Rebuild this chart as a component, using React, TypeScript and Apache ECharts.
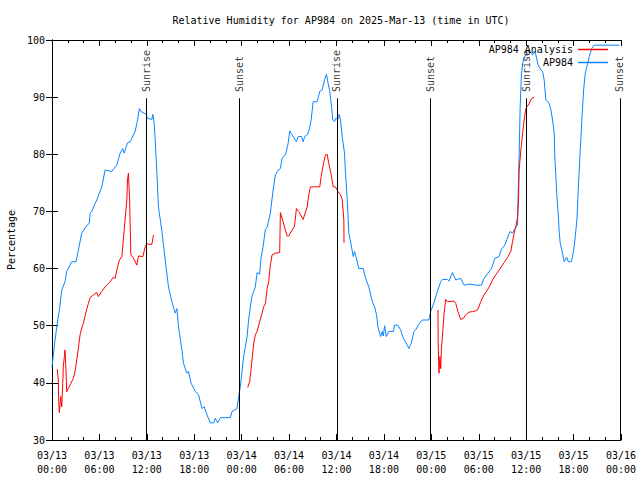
import React, { useEffect, useRef } from "react";
import * as echarts from "echarts";

// Observations (AP984): hours since 2025-03-13 00:00 UTC, relative humidity (%)
const obsTime = [0, 0.38, 0.6, 0.93, 1.23, 1.65, 1.86, 2.5, 3.04, 3.33, 3.76, 4.18, 4.73, 4.82, 5.03, 5.45, 5.67, 6.3, 6.72, 7.57, 8.2, 8.62, 8.96, 9.13, 9.55, 9.89, 10.52, 10.74, 11.07, 11.24, 11.92, 12.08, 12.64, 12.76, 12.93, 13.06, 13.27, 13.47, 13.91, 14.32, 14.74, 15.17, 15.59, 15.81, 16.01, 16.44, 16.64, 17.07, 17.28, 17.58, 18.13, 18.55, 18.98, 19.27, 19.61, 20.03, 20.45, 20.66, 20.95, 21.3, 22.56, 22.78, 23.41, 23.62, 23.83, 24.05, 24.25, 24.47, 24.68, 24.88, 25.1, 25.31, 25.52, 25.73, 25.95, 26.28, 26.45, 26.71, 27.0, 27.22, 27.63, 27.98, 28.27, 28.56, 28.9, 29.12, 29.54, 29.88, 30.08, 30.38, 30.93, 31.15, 31.56, 31.78, 31.98, 32.36, 32.58, 32.79, 33.05, 33.55, 33.88, 34.19, 34.48, 34.73, 34.9, 35.15, 35.37, 35.53, 35.75, 35.91, 36.17, 36.34, 36.51, 36.72, 37.01, 37.14, 37.36, 37.56, 37.86, 38.12, 38.28, 38.45, 38.83, 39.39, 39.68, 40.09, 40.53, 40.82, 41.07, 41.24, 41.58, 41.79, 41.92, 42.09, 42.3, 42.63, 43.19, 43.35, 43.77, 44.11, 44.46, 44.79, 45.17, 45.47, 45.8, 46.01, 46.43, 46.86, 47.7, 47.92, 48.33, 48.76, 49.18, 49.4, 50.03, 50.24, 50.67, 51.09, 51.72, 52.14, 52.77, 53.62, 54.34, 54.67, 55.18, 55.61, 56.03, 56.57, 56.88, 57.3, 57.55, 57.97, 58.27, 58.56, 58.91, 58.98, 59.11, 59.24, 59.41, 59.67, 59.96, 60.38, 60.81, 61.01, 61.23, 61.52, 61.86, 62.08, 62.28, 62.49, 62.91, 63.13, 63.34, 63.55, 63.63, 63.76, 63.89, 64.05, 64.18, 64.31, 64.61, 64.81, 65.12, 65.32, 65.75, 66.0, 66.17, 66.42, 66.59, 66.8, 67.02, 67.27, 67.48, 67.78, 67.98, 68.29, 68.62, 71.78];
const obsRH = [42.8, 47.5, 49.8, 52.7, 56.2, 57.7, 59.5, 61.2, 61.2, 63.2, 66.2, 67.1, 68.0, 69.7, 70.0, 71.4, 72.0, 74.3, 77.25, 77.0, 78.1, 80.2, 81.0, 80.2, 82.0, 82.2, 84.0, 85.4, 88.0, 87.5, 87.0, 86.3, 86.1, 87.0, 85.4, 82.5, 76.7, 70.8, 66.5, 61.5, 56.8, 54.2, 52.2, 53.0, 49.8, 45.75, 43.4, 41.7, 42.0, 40.0, 38.5, 37.9, 35.5, 35.8, 34.4, 33.0, 33.0, 33.8, 33.0, 33.9, 33.9, 35.0, 35.5, 37.6, 39.3, 42.0, 44.6, 46.3, 48.1, 51.0, 53.3, 55.2, 56.0, 56.8, 59.3, 59.0, 61.8, 63.8, 66.9, 67.2, 69.7, 73.75, 76.4, 77.1, 77.5, 79.3, 79.9, 81.9, 84.1, 83.4, 82.2, 83.1, 83.1, 82.2, 83.1, 83.5, 84.5, 86.0, 89.2, 89.2, 91.0, 91.25, 93.0, 94.0, 92.7, 91.0, 88.3, 86.0, 85.7, 86.3, 86.1, 87.0, 86.0, 83.1, 80.2, 76.7, 72.0, 66.2, 64.1, 62.1, 63.0, 62.1, 60.0, 60.0, 58.3, 56.8, 54.2, 53.3, 51.9, 49.8, 48.1, 49.0, 48.2, 50.0, 48.1, 49.0, 49.0, 50.1, 50.1, 49.25, 47.8, 47.0, 46.0, 47.0, 49.0, 49.25, 50.3, 51.0, 51.0, 52.5, 54.0, 56.0, 57.7, 58.1, 58.1, 57.8, 59.3, 58.0, 58.3, 57.1, 57.3, 57.1, 57.1, 58.3, 59.2, 60.0, 61.8, 62.1, 63.4, 64.1, 65.1, 66.5, 66.2, 67.0, 67.6, 72.6, 79.9, 88.3, 94.2, 96.8, 97.4, 98.0, 97.4, 98.0, 97.4, 95.6, 94.75, 94.5, 93.0, 89.5, 88.9, 87.75, 86.0, 83.7, 79.6, 76.1, 72.6, 69.7, 66.5, 64.4, 62.7, 61.2, 62.0, 61.2, 61.2, 63.2, 65.0, 68.5, 73.75, 79.6, 85.4, 91.25, 94.2, 95.9, 97.1, 98.5, 99.1, 99.1];

// Analysis (AP984 Analysis): null marks the gaps between the three runs
const anaTime = [0.67, 0.8, 0.85, 0.93, 1.1, 1.23, 1.36, 1.43, 1.56, 1.65, 1.77, 1.86, 2.28, 2.7, 2.92, 3.13, 3.33, 3.55, 3.76, 3.97, 4.31, 4.6, 4.82, 5.24, 5.67, 5.87, 6.3, 6.72, 7.35, 7.77, 7.99, 8.2, 8.53, 8.84, 9.04, 9.47, 9.55, 9.67, 9.82, 9.98, 10.31, 10.74, 10.94, 11.5, 11.79, 12.0, 12.21, 12.64, 12.84,
  18,
  24.76, 25.01, 25.31, 25.52, 25.73, 25.95, 26.28, 26.58, 26.78, 27.0, 27.22, 27.42, 27.63, 27.85, 28.27, 28.81, 28.9, 29.24, 29.75, 29.95, 30.38, 30.68, 30.93, 31.22, 31.78, 32.29, 32.49, 32.7, 33.88, 34.06, 34.31, 34.61, 34.82, 35.02, 35.33, 35.58, 35.87, 36.17, 36.51, 36.72, 36.93, 36.95,
  42,
  48.84, 48.86, 48.97, 49.09, 49.18, 49.28, 49.4, 49.6, 49.82, 50.03, 50.87, 51.09, 51.38, 51.72, 52.06, 52.35, 52.77, 53.2, 53.62, 53.91, 54.25, 54.67, 55.1, 55.43, 55.74, 56.15, 56.57, 57.0, 57.42, 57.71, 58.06, 58.27, 58.48, 58.69, 58.91, 59.03, 59.11, 59.33, 59.55, 59.75, 59.96, 60.38, 60.71, 61.01];
const anaRH = [42.4, 40.5, 36.7, 34.8, 37.6, 35.8, 39.9, 42.8, 44.6, 45.75, 42.25, 38.45, 39.6, 40.8, 42.0, 44.0, 46.0, 48.4, 49.6, 50.4, 52.45, 53.9, 54.9, 55.4, 55.8, 55.1, 56.0, 56.8, 57.7, 58.5, 58.3, 59.75, 61.5, 62.1, 65.3, 72.0, 75.5, 76.7, 72.0, 62.4, 61.8, 60.6, 62.2, 62.1, 63.8, 64.4, 64.25, 64.25, 65.9,
  null,
  39.2, 40.2, 44.0, 46.9, 48.4, 49.0, 50.7, 52.2, 53.3, 53.9, 56.5, 57.7, 60.6, 62.4, 62.7, 62.8, 69.8, 68.2, 65.7, 65.7, 66.75, 67.4, 70.5, 70.0, 68.6, 70.8, 72.9, 74.3, 74.3, 76.1, 78.1, 79.9, 80.0, 78.4, 76.4, 74.3, 74.3, 73.5, 72.9, 72.1, 68.5, 64.5,
  null,
  52.75, 47.2, 41.7, 44.6, 42.5, 46.0, 48.1, 51.9, 54.6, 54.2, 54.3, 53.9, 52.45, 51.1, 51.3, 51.9, 52.4, 52.45, 52.6, 52.9, 54.2, 55.4, 56.25, 57.1, 58.0, 58.9, 59.75, 60.6, 61.5, 62.1, 63.0, 64.7, 66.2, 67.3, 69.1, 72.0, 77.25, 80.75, 83.7, 86.0, 88.0, 88.9, 89.8, 90.0];

// Sunrise / sunset markers
const sunTime = [11.95, 23.74, 36.04, 47.87, 60.0, 71.87];
const sunLabel = ["Sunrise", "Sunset", "Sunrise", "Sunset", "Sunrise", "Sunset"];

// Axis labelling
const tickDates = ["03/13", "03/14", "03/15", "03/16"];
const seriesNames = ["AP984 Analysis", "AP984"];
const titleText = "Relative Humidity for AP984 on 2025-Mar-13 (time in UTC)";

const FONT = "DejaVu Sans Mono";
const RED = "#ff0000";
const BLUE = "#0a84ff";

export default function App() {
  const ref = useRef<HTMLDivElement>(null);
  useEffect(() => {
    if (!ref.current) return;
    const chart = echarts.init(ref.current, null, { renderer: "svg" });
    const obsData = obsTime.map((t, i) => [t, obsRH[i]]);
    const anaData = anaTime.map((t, i) => [t, anaRH[i] === null ? "-" : anaRH[i]]);
    const sunData = sunTime.map((t, i) => ({ value: [t, 90.9], name: sunLabel[i] }));
    const sunLines = sunTime.map((t) => [{ coord: [t, 89.8] }, { coord: [t, 30] }]);
    const fmt = (v: number) => {
      const d = Math.floor(v / 24);
      const h = Math.round(v - d * 24);
      return tickDates[d] + "\n" + String(h).padStart(2, "0") + ":00";
    };
    const txt = { fontFamily: FONT, fontSize: 10, color: "#000" };
    const xCommon = {
      type: "value",
      min: 0,
      max: 72,
      interval: 6,
      splitLine: { show: false },
      axisLine: { show: true, lineStyle: { color: "#000", width: 1 } },
      axisTick: { show: true, inside: true, length: 6, lineStyle: { color: "#000" } },
      minorTick: { show: true, splitNumber: 3, length: 3, lineStyle: { color: "#000" } },
    };
    const yCommon = {
      type: "value",
      min: 30,
      max: 100,
      interval: 10,
      splitLine: { show: false },
      axisLine: { show: true, lineStyle: { color: "#000", width: 1 } },
      axisTick: { show: true, inside: true, length: 6, lineStyle: { color: "#000" } },
    };
    chart.setOption({
      animation: false,
      backgroundColor: "#fff",
      title: {
        text: titleText,
        left: 336,
        top: 10,
        textAlign: "center",
        textStyle: { ...txt, fontWeight: "normal" },
      },
      legend: {
        data: seriesNames,
        orient: "vertical",
        right: 27,
        top: 39,
        align: "right",
        icon: "rect",
        itemWidth: 30,
        itemHeight: 1.5,
        itemGap: 2,
        textStyle: { ...txt, lineHeight: 11 },
        selectedMode: false,
      },
      grid: { left: 52, right: 19, top: 40, bottom: 40, containLabel: false, outerBoundsMode: "none" },
      xAxis: [
        {
          ...xCommon,
          position: "bottom",
          axisLabel: { ...txt, formatter: fmt, margin: 8, lineHeight: 14 },
        },
        { ...xCommon, position: "top", axisLabel: { show: false } },
      ],
      yAxis: [
        {
          ...yCommon,
          position: "left",
          name: "Percentage",
          nameLocation: "middle",
          nameGap: 36,
          nameTextStyle: txt,
          axisLabel: { ...txt, margin: 7 },
        },
        { ...yCommon, position: "right", axisLabel: { show: false } },
      ],
      series: [
        {
          name: seriesNames[0],
          type: "line",
          data: anaData,
          showSymbol: false,
          symbol: "none",
          connectNulls: false,
          color: RED,
          lineStyle: { color: RED, width: 1 },
          z: 3,
        },
        {
          name: seriesNames[1],
          type: "line",
          data: obsData,
          showSymbol: false,
          symbol: "none",
          color: BLUE,
          lineStyle: { color: BLUE, width: 1 },
          z: 2,
        },
        {
          name: "sun",
          type: "scatter",
          data: sunData,
          symbolSize: 0,
          silent: true,
          label: {
            show: true,
            formatter: (p: any) => p.name,
            position: [0, 0],
            align: "left",
            verticalAlign: "middle",
            rotate: 90,
            ...txt,
          },
          markLine: {
            silent: true,
            symbol: ["none", "none"],
            label: { show: false },
            lineStyle: { color: "#000", width: 1, type: "solid" },
            data: sunLines,
          },
          z: 4,
        },
      ],
    });
    return () => chart.dispose();
  }, []);
  return (
    <div
      ref={ref}
      style={{ position: "absolute", left: 0, top: 0, width: 640, height: 480, background: "#fff" }}
    />
  );
}
